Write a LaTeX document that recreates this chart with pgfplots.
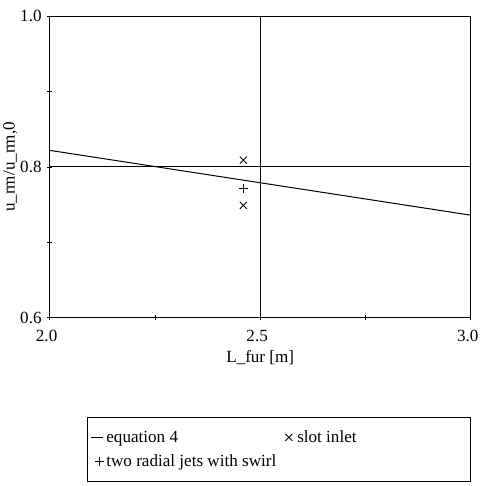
\documentclass[border=0pt]{standalone}
\usepackage{pgfplots}
\pgfplotsset{compat=1.18}
\usepackage{fontspec}
\setmainfont{Liberation Serif}
\begin{document}
\begin{tikzpicture}[font=\fontsize{17}{19}\selectfont]
\begin{axis}[
  scale only axis,
  width=419pt, height=300pt,
  xmin=2, xmax=3, ymin=0.6, ymax=1.0,
  xtick={2,2.5,3}, ytick={0.6,0.8,1.0},
  minor xtick={2.25,2.75}, minor ytick={0.7,0.9},
  xticklabels={2.0,2.5,3.0}, yticklabels={0.6,0.8,1.0},
  tick label style={font=\fontsize{17}{19}\selectfont},
  label style={font=\fontsize{17}{19}\selectfont},
  /pgf/number format/assume math mode=true,
  xmajorgrids, ymajorgrids,
  major grid style={black, line width=0.9pt},
  axis line style={line width=0.9pt},
  tick style={black, line width=0.7pt},
  major tick length=5pt, minor tick length=5pt,
  tick align=center,
  xtick pos=bottom, ytick pos=left,
  xticklabel style={yshift=-6pt, xshift=-3pt},
  yticklabel style={xshift=-2pt},
  xlabel={L\_fur [m]},
  ylabel={u\_rm/u\_rm,0},
  xlabel style={yshift=-2pt},
  ylabel style={yshift=-4pt},
  legend columns=2,
  legend cell align=left,
  legend style={at={(1,-0.33)}, anchor=north east, draw=black, line width=0.9pt,
    font=\fontsize{17}{19}\selectfont, inner xsep=3pt, inner ysep=11pt, row sep=7pt},
]
\addplot[black, line width=1pt, mark=none,
  legend image code/.code={\draw[black,line width=1pt] (0cm,0cm) -- (0.4cm,0cm);}]
  coordinates {(2.0,0.822) (3.0,0.736)};
\addlegendentry{\makebox[176pt][l]{equation 4}}
\addplot[black, only marks, mark=x, mark size=5pt, line width=0.8pt]
  coordinates {(2.46,0.809) (2.46,0.749)};
\addlegendentry{\makebox[170pt][l]{\,slot inlet}}
\addplot[black, only marks, mark=+, mark size=4.5pt, line width=0.8pt]
  coordinates {(2.46,0.771)};
\addlegendentry{two radial jets with swirl}
\end{axis}
\path ([yshift=7pt]current bounding box.north);
\path ([yshift=-4pt]current bounding box.south);
\end{tikzpicture}
\end{document}
